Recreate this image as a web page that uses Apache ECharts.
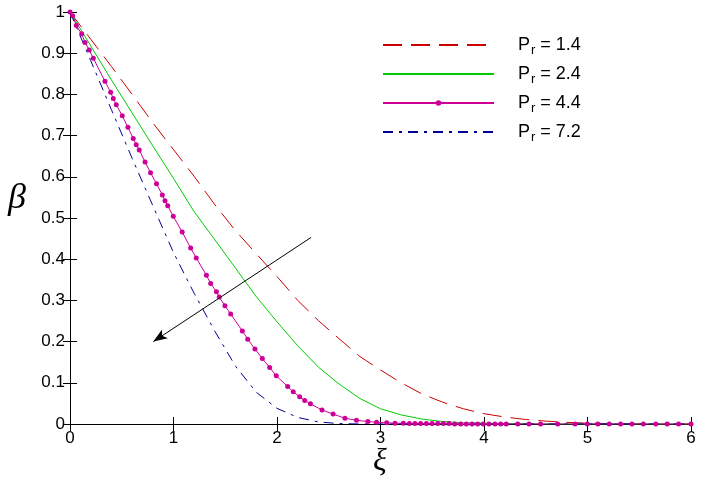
<!DOCTYPE html>
<html lang="en">
<head>
    <meta charset="UTF-8">
    <title>beta vs xi</title>
    <script src="https://cdn.jsdelivr.net/npm/echarts@6/dist/echarts.min.js"></script>
    <style type="text/css">
        html, body { margin: 0; padding: 0; background: #fff; }
        #pic { width: 706px; height: 489px; }
    </style>
</head>
<body>
<div id="pic"></div>
<script type="text/javascript">
    // xi grid for the plain lines
    var xiLine = [0, 0.2, 0.4, 0.6, 0.8, 1.0, 1.2, 1.4, 1.6, 1.8, 2.0, 2.2, 2.4, 2.6, 2.8, 3.0,
        3.2, 3.4, 3.6, 3.8, 4.0, 4.2, 4.4, 4.6, 4.8, 5.0, 5.2, 5.4, 5.6, 5.8, 6.0];
    var pr14 = [1.0, 0.934, 0.868, 0.800, 0.731, 0.666, 0.601, 0.532, 0.469, 0.413, 0.358, 0.300,
        0.251, 0.207, 0.164, 0.131, 0.100, 0.073, 0.053, 0.037, 0.025, 0.017, 0.011, 0.007,
        0.004, 0.002, 0.001, 0.001, 0, 0, 0];
    var pr24 = [1.0, 0.918, 0.835, 0.755, 0.675, 0.596, 0.515, 0.447, 0.378, 0.309, 0.248, 0.190,
        0.138, 0.097, 0.062, 0.037, 0.022, 0.012, 0.006, 0.003, 0.002, 0.001, 0.001, 0,
        0, 0, 0, 0, 0, 0, 0];
    var pr72 = [1.0, 0.882, 0.763, 0.645, 0.530, 0.416, 0.317, 0.225, 0.140, 0.077, 0.038, 0.016,
        0.005, 0.001, 0, 0, 0, 0, 0, 0, 0, 0, 0, 0, 0, 0, 0, 0, 0, 0, 0];

    // solver mesh (where the markers of Pr = 4.4 sit)
    var xiMesh = [0, 0.026, 0.061, 0.113, 0.145, 0.186, 0.225, 0.338, 0.393, 0.418,
        0.447, 0.505, 0.560, 0.611, 0.640, 0.669, 0.725, 0.778, 0.836, 0.892,
        0.918, 0.944, 0.998, 1.084, 1.166, 1.220, 1.318, 1.359, 1.415, 1.442,
        1.497, 1.552, 1.665, 1.717, 1.787, 1.858, 1.929, 1.993, 2.103, 2.157,
        2.219, 2.268, 2.323, 2.435, 2.542, 2.657, 2.768, 2.878, 2.962, 3.060,
        3.140, 3.221, 3.279, 3.333, 3.388, 3.443, 3.498, 3.553, 3.607, 3.662,
        3.717, 3.775, 3.829, 3.884, 3.939, 3.993, 4.048, 4.106, 4.161, 4.215,
        4.326, 4.435, 4.547, 4.712, 4.879, 4.998, 5.10, 5.21, 5.32, 5.43,
        5.54, 5.66, 5.77, 5.88, 6.0];
    var pr44 = [1.0, 0.991, 0.967, 0.947, 0.926, 0.908, 0.888, 0.832, 0.805, 0.790,
        0.775, 0.748, 0.720, 0.693, 0.678, 0.665, 0.636, 0.610, 0.583, 0.556,
        0.542, 0.530, 0.504, 0.466, 0.427, 0.403, 0.361, 0.341, 0.321, 0.308,
        0.287, 0.267, 0.226, 0.206, 0.182, 0.159, 0.137, 0.117, 0.091, 0.078,
        0.066, 0.057, 0.049, 0.034, 0.024, 0.014, 0.009, 0.006, 0.004, 0.003,
        0.002, 0.002, 0.001, 0.001, 0.001, 0.001, 0.001, 0.001, 0.001, 0.001,
        0, 0, 0, 0, 0, 0, 0, 0, 0, 0,
        0, 0, 0, 0, 0, 0, 0, 0, 0, 0,
        0, 0, 0, 0, 0];

    var names = ['Pr = 1.4', 'Pr = 2.4', 'Pr = 4.4', 'Pr = 7.2'];
    var arrowFrom = [2.33, 0.453];
    var arrowTo = [0.805, 0.2];

    function pairs(xs, ys) {
        return xs.map(function (x, i) { return [x, ys[i]]; });
    }

    var font = '"Liberation Sans", Arial, sans-serif';
    var axisCommon = {
        type: 'value',
        axisLine: { show: true, lineStyle: { color: '#000', width: 1 } },
        axisTick: { show: true, inside: true, length: 7, lineStyle: { color: '#000', width: 1 } },
        splitLine: { show: false }
    };
    // only the Pr = 4.4 entry keeps its marker in the legend
    var noMark = { color: 'rgba(0,0,0,0)', borderWidth: 0, opacity: 0 };

    var myChart = echarts.init(document.getElementById('pic'));
    var option = {
        animation: false,
        backgroundColor: '#fff',
        grid: { left: 70, right: 15, top: 12, bottom: 65 },
        xAxis: [
            Object.assign({}, axisCommon, {
                min: 0, max: 6, interval: 1, position: 'bottom',
                axisLabel: { color: '#000', fontSize: 17, fontFamily: font, margin: 6 }
            }),
            Object.assign({}, axisCommon, {
                min: 0, max: 6, interval: 1, position: 'top',
                axisLabel: { show: false }
            })
        ],
        yAxis: [
            Object.assign({}, axisCommon, {
                min: 0, max: 1, interval: 0.1, position: 'left',
                axisLabel: { color: '#000', fontSize: 17, fontFamily: font, margin: 5 }
            }),
            Object.assign({}, axisCommon, {
                min: 0, max: 1, interval: 0.1, position: 'right',
                axisLabel: { show: false }
            })
        ],
        legend: {
            orient: 'vertical',
            left: 382,
            top: 36,
            padding: 0,
            itemWidth: 111,
            itemHeight: 7,
            itemGap: 8,
            data: [
                { name: names[0], itemStyle: noMark },
                { name: names[1], itemStyle: noMark },
                { name: names[2] },
                { name: names[3], itemStyle: noMark }
            ],
            formatter: function (name) {
                return '{p|P}{s|r}{p|' + name.slice(2) + '}';
            },
            textStyle: {
                color: '#000',
                padding: [0, 0, 0, 19],
                rich: {
                    p: { fontSize: 18, fontFamily: font, color: '#000' },
                    s: { fontSize: 13, fontFamily: font, color: '#000', padding: [11, 0, 0, 1] }
                }
            }
        },
        graphic: [
            { type: 'text', left: 8, top: 181,
              style: { text: 'β', font: 'italic 36px "Liberation Serif", serif', fill: '#000' } },
            { type: 'text', left: 373, top: 446,
              style: { text: 'ξ', font: 'italic 32px "Liberation Serif", serif', fill: '#000' } }
        ],
        series: [
            {
                name: names[0], type: 'line', data: pairs(xiLine, pr14),
                symbol: 'none', color: '#cc0000',
                lineStyle: { color: '#cc0000', width: 1, type: [19, 9] }
            },
            {
                name: names[1], type: 'line', data: pairs(xiLine, pr24),
                symbol: 'none', color: '#00cc00',
                lineStyle: { color: '#00cc00', width: 1, type: 'solid' }
            },
            {
                name: names[2], type: 'line', data: pairs(xiMesh, pr44),
                symbol: 'circle', symbolSize: 5, showSymbol: true, color: '#cc0099',
                itemStyle: { color: '#cc0099' },
                lineStyle: { color: '#cc0099', width: 1, type: 'solid' }
            },
            {
                name: names[3], type: 'line', data: pairs(xiLine, pr72),
                symbol: 'none', color: '#000099',
                lineStyle: { color: '#000099', width: 1, type: [10, 6, 3, 6] },
                markLine: {
                    silent: true,
                    symbol: ['none', 'arrow'],
                    symbolSize: [8, 14],
                    label: { show: false },
                    lineStyle: { color: '#000', width: 1, type: 'solid' },
                    data: [[{ coord: arrowFrom }, { coord: arrowTo }]]
                }
            }
        ]
    };
    myChart.setOption(option);
</script>
</body>
</html>
